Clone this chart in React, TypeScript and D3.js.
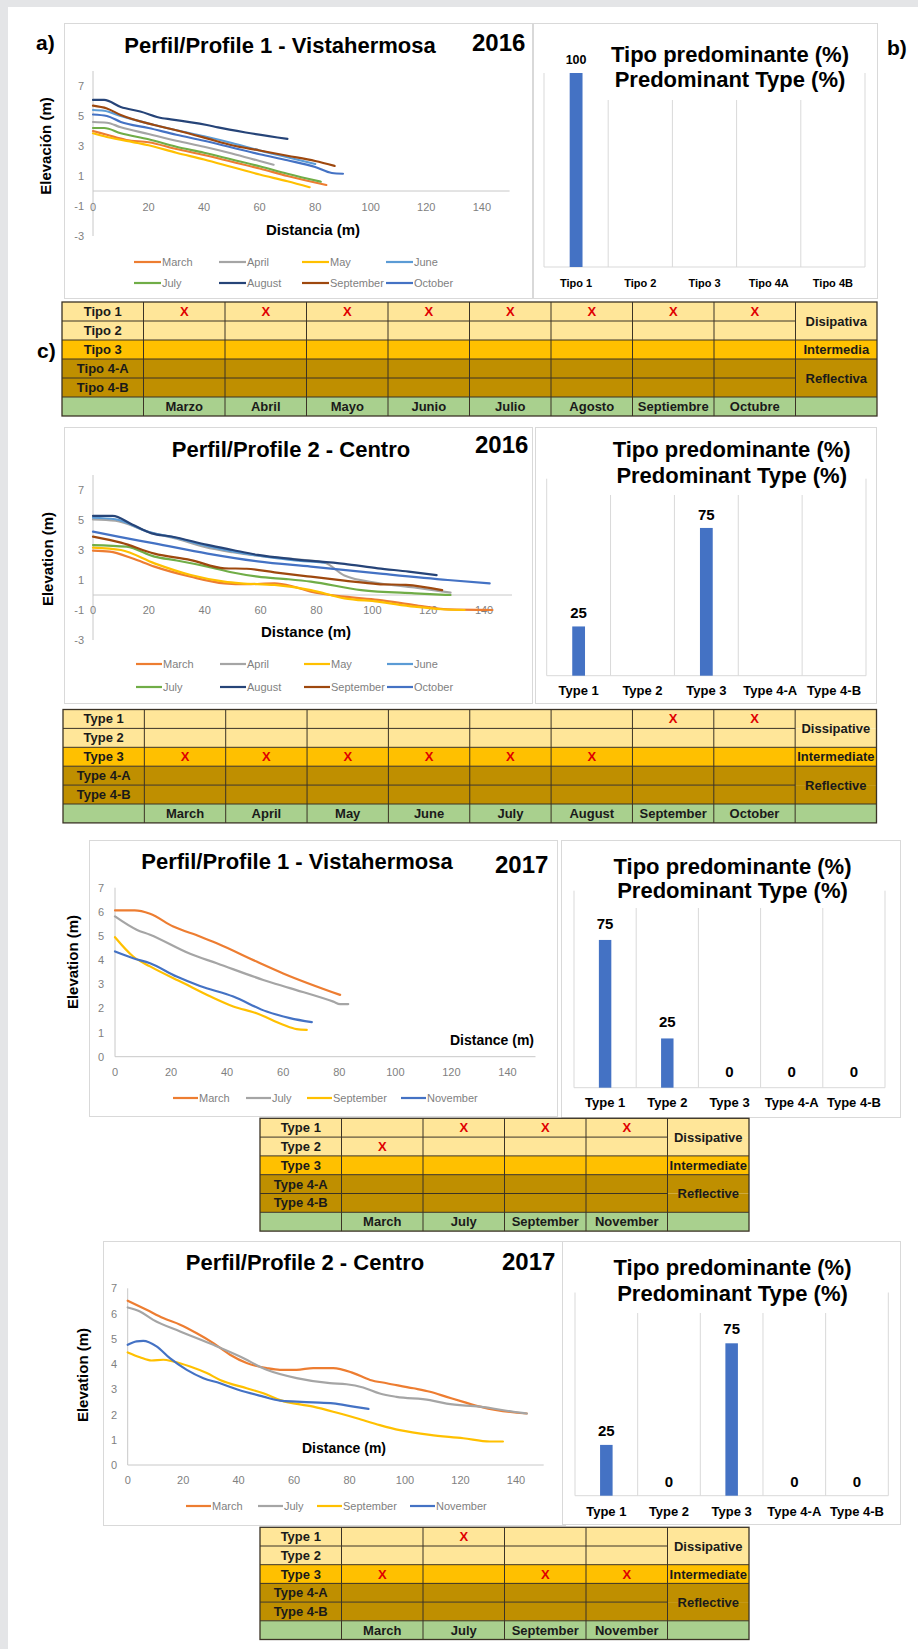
import React from "react";
import * as d3 from "d3";

type Pt = [number, number];
const FONT = "'Liberation Sans', Arial, Helvetica, sans-serif";

// ---------------- DATA ----------------
const legend2016 = ["March", "April", "May", "June", "July", "August", "September", "October"];
const legend2017 = ["March", "July", "September", "November"];
const colors2016 = ["#ED7D31", "#A5A5A5", "#FFC000", "#5B9BD5", "#70AD47", "#264478", "#9E480E", "#4472C4"];
const colors2017 = ["#ED7D31", "#A5A5A5", "#FFC000", "#4472C4"];

const yTicks2016 = [-3, -1, 1, 3, 5, 7];
const yTicks2017 = [0, 1, 2, 3, 4, 5, 6, 7];
const xTicksAll = [0, 20, 40, 60, 80, 100, 120, 140];

// Profile 1 - Vistahermosa 2016
const p1y16March: Pt[] = [[0, 4.0], [5, 3.75], [12, 3.4], [20, 3.25], [30, 2.8], [40, 2.4], [50, 1.95], [60, 1.5], [70, 1.0], [84, 0.4]];
const p1y16April: Pt[] = [[0, 4.6], [5, 4.55], [10, 4.25], [20, 3.8], [30, 3.35], [40, 2.95], [50, 2.5], [60, 2.0], [65, 1.75]];
const p1y16May: Pt[] = [[0, 3.85], [5, 3.6], [16, 3.2], [20, 3.05], [30, 2.55], [40, 2.1], [50, 1.6], [60, 1.1], [70, 0.65], [78, 0.25]];
const p1y16June: Pt[] = [[0, 5.4], [4, 5.35], [10, 5.0], [20, 4.5], [30, 4.05], [40, 3.65], [50, 3.2], [60, 2.7], [70, 2.25], [80, 1.8]];
const p1y16July: Pt[] = [[0, 4.2], [4, 4.2], [10, 3.85], [20, 3.45], [30, 2.95], [40, 2.55], [50, 2.1], [60, 1.65], [70, 1.15], [82, 0.62]];
const p1y16August: Pt[] = [[0, 6.07], [4, 6.07], [10, 5.6], [17, 5.3], [25, 4.85], [28, 4.78], [41, 4.4], [45, 4.24], [55, 3.9], [70, 3.47]];
const p1y16September: Pt[] = [[0, 5.69], [5, 5.5], [10, 5.07], [22, 4.4], [30, 4.05], [41, 3.51], [50, 3.05], [60, 2.7], [70, 2.35], [80, 2.0], [87, 1.67]];
const p1y16October: Pt[] = [[0, 5.1], [5, 5.0], [10, 4.6], [20, 4.2], [30, 3.75], [40, 3.35], [50, 2.9], [60, 2.45], [70, 2.05], [80, 1.6], [86, 1.2], [90, 1.15]];

// Profile 2 - Centro 2016
const p2y16March: Pt[] = [[0, 2.96], [6, 2.89], [14, 2.45], [22, 1.89], [35, 1.22], [47, 0.78], [55, 0.72], [65, 0.78], [72, 0.55], [78, 0.22], [90, -0.11], [102, -0.33], [115, -0.67], [127, -0.96], [143, -1.0]];
const p2y16April: Pt[] = [[0, 5.04], [8, 4.95], [20, 4.2], [30, 3.75], [40, 3.2], [50, 2.85], [65, 2.5], [75, 2.35], [83, 2.15], [90, 1.3], [102, 0.8], [115, 0.5], [128, 0.16]];
const p2y16May: Pt[] = [[0, 3.16], [10, 3.0], [22, 2.11], [35, 1.33], [47, 0.89], [53, 0.78], [65, 0.67], [78, 0.33], [90, -0.22], [102, -0.44], [115, -0.78], [125, -0.95], [133, -1.0]];
const p2y16June: Pt[] = [[0, 5.15], [8, 5.05], [20, 4.2], [30, 3.8], [40, 3.3], [50, 2.9], [60, 2.6], [70, 2.35], [83, 2.16]];
const p2y16July: Pt[] = [[0, 3.33], [12, 3.22], [22, 2.56], [30, 2.3], [41, 1.89], [50, 1.5], [59, 1.22], [70, 1.05], [78, 0.89], [96, 0.33], [115, 0.11], [128, 0.0]];
const p2y16August: Pt[] = [[0, 5.27], [7, 5.27], [14, 4.7], [21, 4.11], [28, 3.9], [41, 3.34], [50, 3.0], [59, 2.67], [72, 2.38], [90, 2.07], [102, 1.78], [113, 1.56], [123, 1.33]];
const p2y16September: Pt[] = [[0, 3.89], [10, 3.49], [22, 2.76], [35, 2.33], [47, 1.78], [55, 1.75], [65, 1.51], [78, 1.22], [90, 0.96], [102, 0.73], [112, 0.67], [125, 0.33]];
const p2y16October: Pt[] = [[0, 4.22], [9, 3.89], [22, 3.44], [41, 2.76], [59, 2.24], [78, 1.89], [102, 1.44], [127, 1.0], [142, 0.78]];

// Profile 1 - Vistahermosa 2017
const p1y17March: Pt[] = [[0, 6.06], [7, 6.06], [12.5, 5.92], [20.8, 5.39], [30.3, 4.98], [36.3, 4.7], [50.5, 3.94], [60, 3.45], [80.3, 2.56]];
const p1y17July: Pt[] = [[0, 5.81], [7.7, 5.26], [12.5, 5.05], [26.8, 4.26], [36.3, 3.87], [52.9, 3.18], [62.4, 2.84], [77.9, 2.28], [80.3, 2.18], [83.2, 2.18]];
const p1y17September: Pt[] = [[0, 4.95], [6.5, 4.15], [12.5, 3.74], [24.4, 3.05], [33.9, 2.5], [42.2, 2.08], [50.5, 1.8], [60, 1.32], [64.8, 1.14], [68.4, 1.11]];
const p1y17November: Pt[] = [[0, 4.36], [6.5, 4.08], [12.5, 3.87], [22, 3.32], [30.3, 2.93], [42.2, 2.49], [54.1, 1.87], [62.4, 1.6], [70.2, 1.43]];

// Profile 2 - Centro 2017
const p2y17March: Pt[] = [[0, 6.51], [6.8, 6.15], [12.8, 5.82], [18.9, 5.56], [24.9, 5.22], [30.9, 4.83], [36.9, 4.37], [42.9, 4.04], [50.1, 3.84], [54.9, 3.77], [60.9, 3.77], [66.9, 3.84], [74.1, 3.84], [81.4, 3.64], [87.4, 3.37], [93.4, 3.24], [103, 3.04], [109, 2.9], [115, 2.7], [121, 2.5], [127, 2.31], [133.1, 2.17], [143.9, 2.04]];
const p2y17July: Pt[] = [[0, 6.24], [4.4, 6.08], [9.2, 5.75], [18.9, 5.29], [30.9, 4.76], [40.5, 4.3], [50.1, 3.77], [60.9, 3.44], [72.9, 3.24], [78.9, 3.2], [84.9, 3.07], [90.9, 2.83], [96.9, 2.7], [109, 2.57], [115, 2.43], [127, 2.31], [139.1, 2.11], [143.9, 2.04]];
const p2y17September: Pt[] = [[0, 4.46], [4.4, 4.27], [8.6, 4.14], [12.8, 4.17], [16.4, 4.1], [22.5, 3.9], [28.5, 3.64], [33.3, 3.37], [42.9, 3.04], [48.9, 2.84], [54.9, 2.57], [66.9, 2.31], [74.1, 2.11], [82.6, 1.85], [90.9, 1.58], [98.1, 1.38], [109, 1.19], [121, 1.06], [130.6, 0.93], [135.3, 0.93]];
const p2y17November: Pt[] = [[0, 4.76], [3.2, 4.9], [5.6, 4.92], [10.4, 4.7], [15.2, 4.23], [21.3, 3.77], [27.3, 3.44], [33.3, 3.24], [39.3, 3.0], [48.9, 2.71], [54.9, 2.55], [60.9, 2.51], [66.9, 2.48], [74.1, 2.44], [81.4, 2.31], [86.8, 2.22]];

// Bar charts (predominant type %)
const barCatsEs = ["Tipo 1", "Tipo 2", "Tipo 3", "Tipo 4A", "Tipo 4B"];
const barCatsEn = ["Type 1", "Type 2", "Type 3", "Type 4-A", "Type 4-B"];
const bar2016P1: (number | null)[] = [100, null, null, null, null];
const bar2016P2: (number | null)[] = [25, null, 75, null, null];
const bar2017P1: (number | null)[] = [75, 25, 0, 0, 0];
const bar2017P2: (number | null)[] = [25, 0, 75, 0, 0];

// Tables
const tableRowsEs = ["Tipo 1", "Tipo 2", "Tipo 3", "Tipo 4-A", "Tipo 4-B"];
const tableRowsEn = ["Type 1", "Type 2", "Type 3", "Type 4-A", "Type 4-B"];
const classesEs = ["Disipativa", "Intermedia", "Reflectiva"];
const classesEn = ["Dissipative", "Intermediate", "Reflective"];
const tableMonthsEs2016 = ["Marzo", "Abril", "Mayo", "Junio", "Julio", "Agosto", "Septiembre", "Octubre"];
const tableMonthsEn2016 = ["March", "April", "May", "June", "July", "August", "September", "October"];
const tableMonths2017 = ["March", "July", "September", "November"];
// type index marked with X for each month
const marks2016P1 = [0, 0, 0, 0, 0, 0, 0, 0];
const marks2016P2 = [2, 2, 2, 2, 2, 2, 0, 0];
const marks2017P1 = [1, 0, 0, 0];
const marks2017P2 = [2, 0, 2, 2];

// ---------------- COMPONENTS ----------------
interface Series { name: string; color: string; data: Pt[] }
interface LineCfg {
  box: [number, number, number, number];
  title: string; titleX: number; titleY: number;
  year: string; yearX: number; yearY: number;
  xRange: [number, number]; yRange: [number, number];
  xDomain: [number, number]; yDomain: [number, number];
  xTicks: number[]; yTicks: number[];
  xLabelY: number; yLabelX: number;
  xTitle: string; xTitleX: number; xTitleY: number; xTitleSize: number;
  yTitle: string; yTitleX: number; yTitleY: number; yTitleSize: number;
  series: Series[];
  legendRows: number[]; legendCols: number[]; legendLineLen: number;
}

function LineChart({ c }: { c: LineCfg }) {
  const x = d3.scaleLinear().domain(c.xDomain).range(c.xRange);
  const y = d3.scaleLinear().domain(c.yDomain).range(c.yRange);
  const line = d3.line<Pt>().x((d) => x(d[0])).y((d) => y(d[1])).curve(d3.curveMonotoneX);
  const [bx, by, bw, bh] = c.box;
  const perRow = c.legendCols.length;
  return (
    <g fontFamily={FONT}>
      <rect x={bx + 0.5} y={by + 0.5} width={bw} height={bh} fill="#fff" stroke="#d9d9d9" />
      <text x={c.titleX} y={c.titleY} textAnchor="middle" fontSize={22} fontWeight="bold" fill="#000">{c.title}</text>
      <text x={c.yearX} y={c.yearY} fontSize={24} fontWeight="bold" fill="#000">{c.year}</text>
      <line x1={x(0)} x2={x(0)} y1={y(c.yDomain[1])} y2={y(c.yDomain[0])} stroke="#c8c8c8" />
      <line x1={x(c.xDomain[0])} x2={x(c.xDomain[1])} y1={y(0)} y2={y(0)} stroke="#c8c8c8" />
      {c.yTicks.map((t) => (
        <text key={"y" + t} x={c.yLabelX} y={y(t) + 4} textAnchor="end" fontSize={11} fill="#7f7f7f">{t}</text>
      ))}
      {c.xTicks.map((t) => (
        <text key={"x" + t} x={x(t)} y={c.xLabelY} textAnchor="middle" fontSize={11} fill="#7f7f7f">{t}</text>
      ))}
      <text x={c.xTitleX} y={c.xTitleY} textAnchor="middle" fontSize={c.xTitleSize} fontWeight="bold">{c.xTitle}</text>
      <text transform={`translate(${c.yTitleX},${c.yTitleY}) rotate(-90)`} textAnchor="middle" dominantBaseline="central" fontSize={c.yTitleSize} fontWeight="bold">{c.yTitle}</text>
      {c.series.map((s) => (
        <path key={s.name} d={line(s.data) || ""} fill="none" stroke={s.color} strokeWidth={2.2} strokeLinejoin="round" strokeLinecap="round" />
      ))}
      {c.series.map((s, i) => {
        const lx = c.legendCols[i % perRow];
        const ly = c.legendRows[Math.floor(i / perRow)];
        return (
          <g key={"lg" + s.name}>
            <line x1={lx} x2={lx + c.legendLineLen} y1={ly} y2={ly} stroke={s.color} strokeWidth={2.2} />
            <text x={lx + c.legendLineLen + 1} y={ly + 4} fontSize={11} fill="#7f7f7f">{s.name}</text>
          </g>
        );
      })}
    </g>
  );
}

interface BarCfg {
  box: [number, number, number, number];
  cats: string[]; values: (number | null)[];
  bandRange: [number, number]; yBottom: number; yTop: number; innerTop: number;
  titleX: number; titleY1: number; titleY2: number;
  catY: number; catSize: number; valSize: number; valGap: number;
}

function BarChart({ c }: { c: BarCfg }) {
  const xb = d3.scaleBand<string>().domain(c.cats).range(c.bandRange).paddingInner(0).paddingOuter(0);
  const y = d3.scaleLinear().domain([0, 100]).range([c.yBottom, c.yTop]);
  const bw = xb.bandwidth() * 0.2;
  const edges = [...c.cats.map((k) => xb(k) as number), c.bandRange[1]];
  const [bx, by, bwid, bh] = c.box;
  return (
    <g fontFamily={FONT}>
      <rect x={bx + 0.5} y={by + 0.5} width={bwid} height={bh} fill="#fff" stroke="#d9d9d9" />
      {edges.map((e, i) => (
        <line key={"g" + i} x1={e} x2={e} y1={i === 0 || i === edges.length - 1 ? c.yTop : c.innerTop} y2={c.yBottom} stroke="#d9d9d9" />
      ))}
      <line x1={c.bandRange[0]} x2={c.bandRange[1]} y1={c.yBottom} y2={c.yBottom} stroke="#d9d9d9" />
      <text x={c.titleX} y={c.titleY1} textAnchor="middle" fontSize={22} fontWeight="bold">Tipo predominante (%)</text>
      <text x={c.titleX} y={c.titleY2} textAnchor="middle" fontSize={22} fontWeight="bold">Predominant Type (%)</text>
      {c.cats.map((k, i) => {
        const v = c.values[i];
        const cx = (xb(k) as number) + xb.bandwidth() / 2;
        return (
          <g key={k}>
            {v !== null && v > 0 && (
              <rect x={cx - bw / 2} y={y(v)} width={bw} height={y(0) - y(v)} fill="#4472C4" />
            )}
            {v !== null && (
              <text x={cx} y={y(v) - c.valGap} textAnchor="middle" fontSize={c.valSize} fontWeight="bold">{v}</text>
            )}
            <text x={cx} y={c.catY} textAnchor="middle" fontSize={c.catSize} fontWeight="bold">{k}</text>
          </g>
        );
      })}
    </g>
  );
}

interface TableCfg {
  x: number; y: number; colW: number; rowH: number;
  rows: string[]; classes: string[]; months: string[]; marks: number[];
}

const ROW_FILLS = ["#FFE699", "#FFE699", "#FFC000", "#BF8F00", "#BF8F00", "#A9D08E"];

function TypeTable({ c }: { c: TableCfg }) {
  const ncol = c.months.length + 2;
  const cx = d3.scaleLinear().domain([0, ncol]).range([c.x, c.x + ncol * c.colW]);
  const ry = d3.scaleLinear().domain([0, 6]).range([c.y, c.y + 6 * c.rowH]);
  const W = ncol * c.colW;
  const classSpans: [number, number][] = [[0, 2], [2, 3], [3, 5]];
  const lineCol = "#3b3326";
  return (
    <g fontFamily={FONT} fontWeight="bold" fontSize={13}>
      {ROW_FILLS.map((f, r) => (
        <rect key={"r" + r} x={c.x} y={ry(r)} width={W} height={c.rowH} fill={f} />
      ))}
      {d3.range(1, 6).map((r) => {
        const merged = r === 1 || r === 4;
        return <line key={"h" + r} x1={c.x} x2={merged ? cx(ncol - 1) : c.x + W} y1={ry(r)} y2={ry(r)} stroke={lineCol} strokeWidth={1} />;
      })}
      {d3.range(1, ncol).map((k) => (
        <line key={"v" + k} x1={cx(k)} x2={cx(k)} y1={c.y} y2={ry(6)} stroke={lineCol} strokeWidth={1} />
      ))}
      <rect x={c.x} y={c.y} width={W} height={6 * c.rowH} fill="none" stroke={lineCol} strokeWidth={1.3} />
      {c.rows.map((t, r) => (
        <text key={"l" + r} x={cx(0.5)} y={ry(r + 0.5) + 4.5} textAnchor="middle" fill="#1a1a1a">{t}</text>
      ))}
      {c.months.map((m, i) => (
        <text key={"m" + i} x={cx(i + 1.5)} y={ry(5.5) + 4.5} textAnchor="middle" fill="#1a1a1a">{m}</text>
      ))}
      {c.classes.map((t, i) => (
        <text key={"c" + i} x={cx(ncol - 0.5)} y={ry((classSpans[i][0] + classSpans[i][1]) / 2) + 4.5} textAnchor="middle" fill="#1a1a1a">{t}</text>
      ))}
      {c.marks.map((r, i) => (
        <text key={"x" + i} x={cx(i + 1.5)} y={ry(r + 0.5) + 4.5} textAnchor="middle" fill="#E00000">X</text>
      ))}
    </g>
  );
}

function mkSeries(names: string[], colors: string[], data: Pt[][]): Series[] {
  return names.map((n, i) => ({ name: n, color: colors[i], data: data[i] }));
}

export default function App() {
  const chartA: LineCfg = {
    box: [64, 23, 468, 275],
    title: "Perfil/Profile 1 - Vistahermosa", titleX: 280, titleY: 53,
    year: "2016", yearX: 472, yearY: 51,
    xRange: [93, 509.6], yRange: [236, 71], xDomain: [0, 150], yDomain: [-3, 8],
    xTicks: xTicksAll, yTicks: yTicks2016, xLabelY: 211, yLabelX: 84,
    xTitle: "Distancia (m)", xTitleX: 313, xTitleY: 235, xTitleSize: 15,
    yTitle: "Elevación (m)", yTitleX: 45, yTitleY: 146, yTitleSize: 15,
    series: mkSeries(legend2016, colors2016, [p1y16March, p1y16April, p1y16May, p1y16June, p1y16July, p1y16August, p1y16September, p1y16October]),
    legendRows: [262, 283], legendCols: [134, 219, 302, 386], legendLineLen: 27,
  };
  const chartB: LineCfg = {
    box: [64, 427, 468, 276],
    title: "Perfil/Profile 2 - Centro", titleX: 291, titleY: 457,
    year: "2016", yearX: 475, yearY: 453,
    xRange: [93, 512], yRange: [640, 475], xDomain: [0, 150], yDomain: [-3, 8],
    xTicks: xTicksAll, yTicks: yTicks2016, xLabelY: 614, yLabelX: 84,
    xTitle: "Distance (m)", xTitleX: 306, xTitleY: 637, xTitleSize: 15,
    yTitle: "Elevation (m)", yTitleX: 47, yTitleY: 559, yTitleSize: 15,
    series: mkSeries(legend2016, colors2016, [p2y16March, p2y16April, p2y16May, p2y16June, p2y16July, p2y16August, p2y16September, p2y16October]),
    legendRows: [664, 687], legendCols: [136, 220, 304, 387], legendLineLen: 26,
  };
  const chartC: LineCfg = {
    box: [89, 840, 468, 276],
    title: "Perfil/Profile 1 - Vistahermosa", titleX: 297, titleY: 869,
    year: "2017", yearX: 495, yearY: 873,
    xRange: [115, 535.5], yRange: [1056.7, 887.7], xDomain: [0, 150], yDomain: [0, 7],
    xTicks: xTicksAll, yTicks: yTicks2017, xLabelY: 1076, yLabelX: 104,
    xTitle: "Distance (m)", xTitleX: 492, xTitleY: 1045, xTitleSize: 14,
    yTitle: "Elevation (m)", yTitleX: 72, yTitleY: 962, yTitleSize: 15,
    series: mkSeries(legend2017, colors2017, [p1y17March, p1y17July, p1y17September, p1y17November]),
    legendRows: [1098], legendCols: [173, 246, 307, 401], legendLineLen: 25,
  };
  const chartD: LineCfg = {
    box: [103, 1241, 462, 284],
    title: "Perfil/Profile 2 - Centro", titleX: 305, titleY: 1270,
    year: "2017", yearX: 502, yearY: 1270,
    xRange: [127.7, 543.7], yRange: [1465, 1288.3], xDomain: [0, 150], yDomain: [0, 7],
    xTicks: xTicksAll, yTicks: yTicks2017, xLabelY: 1484, yLabelX: 117,
    xTitle: "Distance (m)", xTitleX: 344, xTitleY: 1453, xTitleSize: 14,
    yTitle: "Elevation (m)", yTitleX: 82, yTitleY: 1375, yTitleSize: 15,
    series: mkSeries(legend2017, colors2017, [p2y17March, p2y17July, p2y17September, p2y17November]),
    legendRows: [1506], legendCols: [186, 258, 317, 410], legendLineLen: 25,
  };

  const barA: BarCfg = {
    box: [533, 23, 344, 275], cats: barCatsEs, values: bar2016P1,
    bandRange: [544, 865], yBottom: 267, yTop: 73, innerTop: 100,
    titleX: 730, titleY1: 62, titleY2: 87, catY: 287, catSize: 11, valSize: 12.5, valGap: 9,
  };
  const barB: BarCfg = {
    box: [535, 427, 341, 276], cats: barCatsEn, values: bar2016P2,
    bandRange: [546.7, 866], yBottom: 675.7, yTop: 478.7, innerTop: 495,
    titleX: 731.7, titleY1: 457, titleY2: 483, catY: 695, catSize: 13, valSize: 15, valGap: 8,
  };
  const barC: BarCfg = {
    box: [561, 840, 339, 277], cats: barCatsEn, values: bar2017P1,
    bandRange: [574, 885], yBottom: 1087.7, yTop: 890.7, innerTop: 908,
    titleX: 732.5, titleY1: 874, titleY2: 898, catY: 1107, catSize: 13, valSize: 15, valGap: 11,
  };
  const barD: BarCfg = {
    box: [562, 1241, 338, 283], cats: barCatsEn, values: bar2017P2,
    bandRange: [575, 888.3], yBottom: 1495.7, yTop: 1292.5, innerTop: 1313,
    titleX: 732.5, titleY1: 1275, titleY2: 1301, catY: 1516, catSize: 13, valSize: 15, valGap: 9,
  };

  const tableA: TableCfg = { x: 62, y: 302, colW: 81.5, rowH: 19, rows: tableRowsEs, classes: classesEs, months: tableMonthsEs2016, marks: marks2016P1 };
  const tableB: TableCfg = { x: 63, y: 709.5, colW: 81.35, rowH: 18.9, rows: tableRowsEn, classes: classesEn, months: tableMonthsEn2016, marks: marks2016P2 };
  const tableC: TableCfg = { x: 260, y: 1118.3, colW: 81.5, rowH: 18.8, rows: tableRowsEn, classes: classesEn, months: tableMonths2017, marks: marks2017P1 };
  const tableD: TableCfg = { x: 260, y: 1527.3, colW: 81.5, rowH: 18.7, rows: tableRowsEn, classes: classesEn, months: tableMonths2017, marks: marks2017P2 };

  return (
    <svg width={918} height={1649} viewBox="0 0 918 1649" style={{ position: "absolute", left: 0, top: 0, display: "block" }} fontFamily={FONT}>
      <rect x={0} y={0} width={918} height={1649} fill="#e4e5e7" />
      <rect x={8} y={7} width={910} height={1642} fill="#ffffff" />
      <LineChart c={chartA} />
      <BarChart c={barA} />
      <LineChart c={chartB} />
      <BarChart c={barB} />
      <LineChart c={chartC} />
      <BarChart c={barC} />
      <LineChart c={chartD} />
      <BarChart c={barD} />
      <TypeTable c={tableA} />
      <TypeTable c={tableB} />
      <TypeTable c={tableC} />
      <TypeTable c={tableD} />
      <text x={36} y={50} fontSize={21} fontWeight="bold">a)</text>
      <text x={887} y={55} fontSize={21} fontWeight="bold">b)</text>
      <text x={37} y={358} fontSize={21} fontWeight="bold">c)</text>
    </svg>
  );
}
